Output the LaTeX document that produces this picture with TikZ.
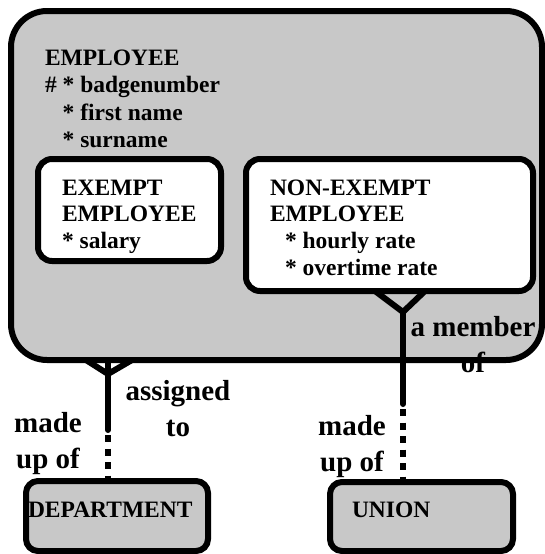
\documentclass[tikz,border=0pt]{standalone}
\usepackage{fontspec}
\setmainfont{Liberation Serif}
\definecolor{boxgray}{RGB}{200,200,200}
% rows of text whose first baseline is the node's base anchor
\newcommand\textrows[2]{\begin{tabular}[t]{@{}#1@{}}#2\end{tabular}}
\begin{document}
\begin{tikzpicture}[x=1pt,y=-1pt,
  every node/.style={inner sep=0pt, outer sep=0pt},
  subbox/.style={rectangle, rounded corners=14pt, line width=6pt, draw=black, fill=white},
  refbox/.style={rectangle, rounded corners=12pt, line width=6pt, draw=black, fill=boxgray},
  attrs/.style={anchor=base west, font=\fontsize{23.5}{#1}\selectfont\bfseries},
  attrs/.default=26.8,
  rel/.style={anchor=base, font=\fontsize{29}{36}\selectfont\bfseries},
  conn/.style={line width=6pt, line cap=round, line join=round},
  dotconn/.style={line width=5.5pt, dash pattern=on 7pt off 6.5pt}
]
\useasboundingbox (0,0) rectangle (545,554);

% supertype EMPLOYEE (fill first, border after the relationship labels)
\node[fill=boxgray, rounded corners=36pt, minimum width=531pt, minimum height=349pt] (emp) at (276.5,185.5) {};
\node[attrs=27.5] (empattrs) at (45,65) {\textrows{l}{EMPLOYEE\\\# * badgenumber\\\hphantom{\# }* first name\\\hphantom{\# }* surname}};

% relationship labels
\node[rel] (lblassigned) at (178,400) {\textrows{c}{assigned\\to}};
\node[rel] (lblmadedept) at (48,432) {\textrows{c}{made\\up of}};
\node[rel] (lblmember) at (473,336) {\textrows{c}{a member\\of}};
\node[rel] (lblmadeunion) at (352,435) {\textrows{c}{made\\up of}};

\draw[line width=6pt, rounded corners=36pt] (emp.south west) rectangle (emp.north east);

% subtypes
\node[subbox, minimum width=183pt, minimum height=102pt] (exempt) at (129.5,210) {};
\node[attrs] (exemptattrs) at (62,195) {\textrows{l}{EXEMPT\\EMPLOYEE\\{}* salary}};
\node[subbox, minimum width=287pt, minimum height=132pt] (nonexempt) at (389.5,225) {};
\node[attrs] (nonexemptattrs) at (270,195) {\textrows{l}{NON-EXEMPT\\EMPLOYEE\\\hspace{15pt}* hourly rate\\\hspace{15pt}* overtime rate}};

% related entities
\node[refbox, minimum width=182pt, minimum height=70pt] (dept) at (117,516) {};
\node[attrs] (deptname) at (28,517) {DEPARTMENT};
\node[refbox, minimum width=183pt, minimum height=69pt] (union) at (421.5,516.5) {};
\node[attrs] (unionname) at (352,517) {UNION};

% EMPLOYEE >-- DEPARTMENT
\coordinate (dptlegL) at (86,0);
\coordinate (dptlegR) at (132,0);
\coordinate (dptjoin) at (108,374);
\coordinate (dptend) at (108,430);
\coordinate (dptdash) at (108,435);
\draw[conn] (dptjoin |- emp.south) -- (dptend);
\draw[conn] (dptlegL |- emp.south) -- (dptjoin) -- (dptlegR |- emp.south);
\draw[dotconn] (dptdash) -- (dptdash |- dept.north);

% NON-EXEMPT EMPLOYEE >-- UNION
\coordinate (unilegL) at (375,0);
\coordinate (unilegR) at (425,0);
\coordinate (unijoin) at (403,312);
\coordinate (uniend) at (403,404);
\coordinate (unidash) at (403,409);
\draw[conn] (unilegL |- nonexempt.south) -- (unijoin) -- (unilegR |- nonexempt.south);
\draw[conn] (unijoin) -- (uniend);
\draw[dotconn] (unidash) -- (unidash |- union.north);
\end{tikzpicture}
\end{document}
